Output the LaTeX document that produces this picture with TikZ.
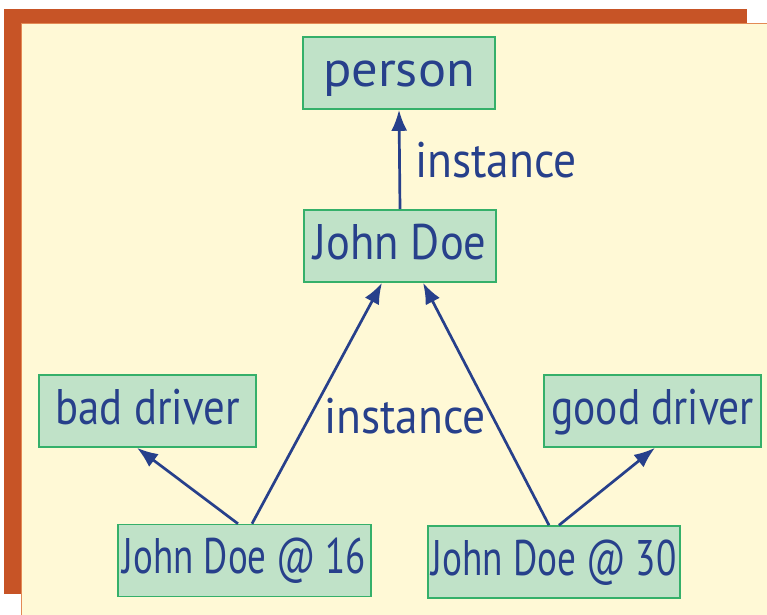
\documentclass[tikz,border=0pt]{standalone}
\usepackage{graphicx}
\usepackage{fontspec}
\setmainfont{PT Sans}
\usetikzlibrary{arrows.meta}
\definecolor{rust}{HTML}{C75426}
\definecolor{rustlight}{HTML}{E38A55}
\definecolor{cream}{HTML}{FFF9D6}
\definecolor{boxfill}{HTML}{C0E2C8}
\definecolor{boxline}{HTML}{35B06A}
\definecolor{ink}{HTML}{27408B}
\newcommand{\sqz}[2]{\scalebox{#1}[1]{#2}}
\tikzset{
  box/.style={draw=boxline, fill=boxfill, line width=1.6pt, inner sep=0pt,
    minimum height=72pt, text=ink, text height=36pt, text depth=10pt,
    font=\fontsize{50}{56}\selectfont},
  lbl/.style={text=ink, inner sep=0pt, anchor=base, font=\fontsize{50}{56}\selectfont},
  arr/.style={draw=ink, line width=2.7pt, -{Latex[length=21pt,width=16pt]}}
}
\begin{document}
\begin{tikzpicture}[x=1pt,y=-1pt]
\useasboundingbox (0,0) rectangle (767,614);
\fill[rust] (4,9) rectangle (747,594);
\fill[cream] (22,24) rectangle (768,615);
\draw[rustlight, line width=1.5pt] (21.5,615) -- (21.5,23.5) -- (768,23.5);
\node[box, minimum width=192pt] (person) at (399,73) {\sqz{1.05}{person}};
\node[box, minimum width=192pt] (jd) at (400,246) {\sqz{0.89}{John Doe}};
\node[box, minimum width=217pt] (bad) at (147.5,411) {\sqz{0.855}{bad driver}};
\node[box, minimum width=217pt] (good) at (652.5,411) {\sqz{0.83}{good driver}};
\node[box, minimum width=253pt] (jd16) at (244.5,560.5) {\sqz{0.74}{John Doe @ 16}};
\node[box, minimum width=252pt] (jd30) at (554,562) {\sqz{0.745}{John Doe @ 30}};
\node[lbl] (l1) at (496,177) {\sqz{0.91}{instance}};
\node[lbl] (l2) at (405,433) {\sqz{0.91}{instance}};
\draw[arr] (jd.north) -- (person.south);
\draw[arr] ([xshift=7.5pt]jd16.north) -- ([xshift=-18pt]jd.south);
\draw[arr] ([xshift=-6.5pt]jd16.north) -- ([xshift=-10.5pt]bad.south);
\draw[arr] ([xshift=-5pt]jd30.north) -- ([xshift=23pt]jd.south);
\draw[arr] ([xshift=5pt]jd30.north) -- ([xshift=2.5pt]good.south);
\end{tikzpicture}
\end{document}
